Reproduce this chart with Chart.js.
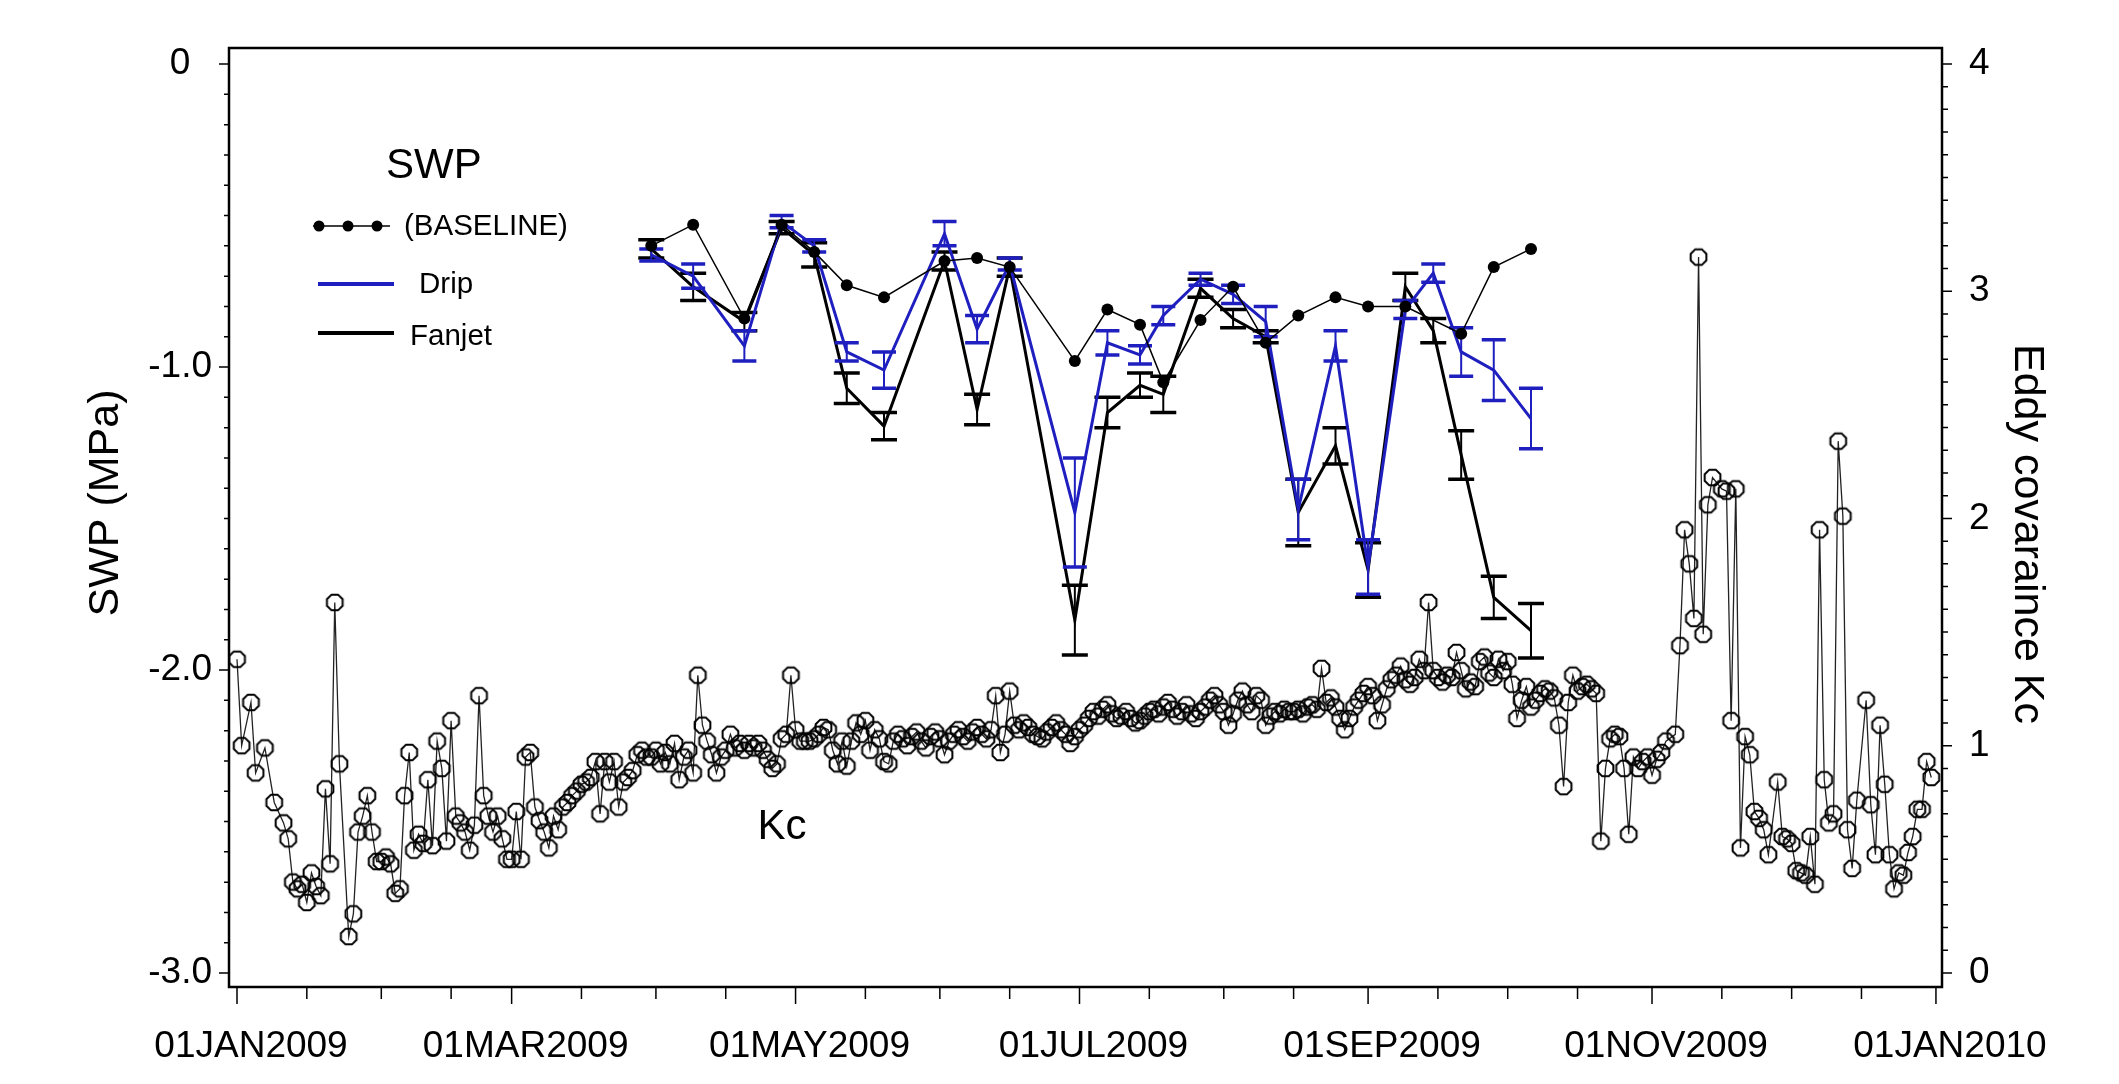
<!DOCTYPE html>
<html><head><meta charset="utf-8">
<script src="https://cdn.jsdelivr.net/npm/chart.js@4.4.0/dist/chart.umd.min.js"></script>
<style>html,body{margin:0;padding:0;background:#fff;}canvas{display:block;}</style>
</head><body>
<canvas id="c" width="2119" height="1084"></canvas>
<script>
// ---------------- DATA ----------------
const xLabels = ['01JAN2009','01MAR2009','01MAY2009','01JUL2009','01SEP2009','01NOV2009','01JAN2010'];
const xLabelDays = [0,59,120,181,243,304,365];
const monthStarts = [0,31,59,90,120,151,181,212,243,273,304,334,365];
const leftLabels = ['0','-1.0','-2.0','-3.0'];
const leftLabelVals = [0,-1,-2,-3];
const rightLabels = ['0','1','2','3','4'];
const rightLabelVals = [0,1,2,3,4];
const leftTitle = 'SWP (MPa)';
const rightTitle = 'Eddy covaraince Kc';

// SWP sampling dates (day of year, 0 = 01JAN2009)
const swpDays = [89,98,109,117,124,131,139,152,159,166,180,187,194,199,207,214,221,228,236,243,251,257,263,270,278];
const baseline = [-0.60,-0.53,-0.84,-0.53,-0.62,-0.73,-0.77,-0.65,-0.64,-0.67,-0.98,-0.81,-0.86,-1.05,-0.845,-0.735,-0.92,-0.83,-0.77,-0.80,-0.80,null,-0.89,-0.67,-0.61];
const drip = [-0.63,-0.70,-0.93,-0.52,-0.60,-0.95,-1.01,-0.56,-0.875,-0.66,-1.48,-0.92,-0.96,-0.83,-0.71,-0.76,-0.85,-1.47,-0.93,-1.66,-0.81,-0.69,-0.95,-1.01,-1.17];
const dripSE = [0.02,0.04,0.05,0.02,0.02,0.03,0.06,0.04,0.045,0.02,0.18,0.04,0.03,0.03,0.02,0.03,0.05,0.10,0.05,0.09,0.03,0.03,0.08,0.10,0.10];
const fanjet = [-0.61,-0.735,-0.85,-0.54,-0.63,-1.07,-1.195,-0.65,-1.14,-0.67,-1.835,-1.15,-1.06,-1.09,-0.74,-0.84,-0.90,-1.48,-1.26,-1.67,-0.735,-0.88,-1.29,-1.76,-1.87];
const fanjetSE = [0.03,0.045,0.03,0.02,0.04,0.05,0.045,0.03,0.05,0.03,0.115,0.05,0.04,0.06,0.03,0.03,0.02,0.11,0.06,0.09,0.045,0.04,0.08,0.07,0.09];

// Eddy covariance Kc (day of year, value)
const kcDays = [0,1,3,4,6,8,10,11,12,13,14,15,16,17,18,19,20,21,22,24,25,26,27,28,29,30,31,32,33,34,35,36,37,38,39,40,41,42,43,44,45,46,47,48,49,50,51,52,53,54,55,56,57,58,59,60,61,62,63,64,65,66,67,68,69,70,71,72,73,74,75,76,77,78,79,80,81,82,83,84,85,86,87,88,89,90,91,92,93,94,95,96,97,98,99,100,101,102,103,104,105,106,107,108,109,110,111,112,113,114,115,116,117,118,119,120,121,122,123,124,125,126,127,128,129,130,131,132,133,134,135,136,137,138,139,140,141,142,143,144,145,146,147,148,149,150,151,152,153,154,155,156,157,158,159,160,161,162,163,164,165,166,167,168,169,170,171,172,173,174,175,176,177,178,179,180,181,182,183,184,185,186,187,188,189,190,191,192,193,194,195,196,197,198,199,200,201,202,203,204,205,206,207,208,209,210,211,212,213,214,215,216,217,218,219,220,221,222,223,224,225,226,227,228,229,230,231,232,233,234,235,236,237,238,239,240,241,242,243,244,245,246,247,248,249,250,251,252,253,254,255,256,257,258,259,260,261,262,263,264,265,266,267,268,269,270,271,272,273,274,275,276,277,278,279,280,281,282,283,284,285,286,287,288,289,290,291,292,293,294,295,296,297,298,299,300,301,302,303,304,305,306,307,309,310,311,312,313,314,315,316,317,319,320,321,322,323,324,325,326,327,328,329,331,332,333,334,335,336,337,338,339,340,341,342,343,344,345,346,347,348,350,351,352,353,354,355,356,357,358,359,360,361,362,363,364];
const kcVals = [1.38,1.00,1.19,0.88,0.99,0.75,0.66,0.59,0.40,0.37,0.39,0.31,0.44,0.38,0.34,0.81,0.48,1.63,0.92,0.16,0.26,0.62,0.69,0.78,0.62,0.49,0.49,0.51,0.48,0.35,0.37,0.78,0.97,0.54,0.61,0.57,0.85,0.56,1.02,0.90,0.58,1.11,0.69,0.66,0.62,0.54,0.65,1.22,0.78,0.69,0.62,0.69,0.59,0.50,0.50,0.71,0.50,0.95,0.97,0.73,0.67,0.62,0.55,0.69,0.63,0.73,0.75,0.78,0.80,0.83,0.84,0.86,0.93,0.70,0.93,0.84,0.93,0.73,0.84,0.86,0.89,0.96,0.98,0.95,0.95,0.98,0.92,0.97,0.92,1.01,0.85,0.95,0.98,0.88,1.31,1.09,1.02,0.96,0.88,0.95,0.98,1.05,0.99,1.01,0.98,1.01,0.99,1.01,0.98,0.94,0.90,0.92,1.03,1.05,1.31,1.07,1.02,1.02,1.02,1.03,1.05,1.08,1.07,0.98,0.92,1.02,0.91,1.02,1.10,1.05,1.11,0.98,1.07,1.03,0.93,0.92,1.02,1.05,1.03,1.00,1.04,1.06,1.02,0.99,1.04,1.06,1.03,0.96,1.02,1.05,1.07,1.04,1.02,1.06,1.08,1.05,1.03,1.07,1.22,0.97,1.05,1.24,1.09,1.07,1.10,1.08,1.05,1.04,1.03,1.06,1.08,1.10,1.07,1.05,1.01,1.04,1.07,1.09,1.12,1.15,1.13,1.16,1.18,1.14,1.12,1.13,1.15,1.12,1.10,1.11,1.13,1.15,1.16,1.14,1.17,1.19,1.16,1.13,1.15,1.18,1.14,1.12,1.15,1.17,1.20,1.22,1.18,1.15,1.09,1.14,1.20,1.24,1.18,1.15,1.22,1.20,1.09,1.13,1.15,1.14,1.16,1.15,1.15,1.16,1.14,1.17,1.18,1.16,1.34,1.19,1.21,1.17,1.12,1.07,1.12,1.17,1.20,1.23,1.26,1.22,1.11,1.18,1.25,1.29,1.31,1.35,1.29,1.27,1.30,1.38,1.33,1.63,1.33,1.30,1.28,1.31,1.30,1.41,1.33,1.25,1.28,1.26,1.37,1.39,1.32,1.30,1.38,1.33,1.37,1.27,1.12,1.20,1.26,1.17,1.20,1.23,1.25,1.24,1.21,1.09,0.82,1.19,1.31,1.24,1.26,1.27,1.25,1.23,0.58,0.90,1.03,1.05,1.04,0.90,0.61,0.95,0.90,0.93,0.95,0.87,0.94,0.97,1.02,1.05,1.44,1.95,1.80,1.56,3.15,1.49,2.06,2.18,2.13,2.12,1.11,2.13,0.55,1.04,0.96,0.71,0.68,0.63,0.52,0.84,0.60,0.59,0.57,0.45,0.44,0.43,0.60,0.39,1.95,0.85,0.66,0.70,2.34,2.01,0.63,0.46,0.76,1.20,0.74,0.52,1.09,0.83,0.52,0.37,0.44,0.43,0.53,0.60,0.72,0.72,0.93,0.86];

// ---------------- STYLE ----------------
const TICKFONT = '"Liberation Sans",Arial,Helvetica,sans-serif';
const SANS = '"Liberation Sans",Arial,Helvetica,sans-serif';
const BLUE = '#1f1fbf';

const xTickVals = [];
monthStarts.forEach(m => { xTickVals.push(m); if (m < 365) xTickVals.push(m + 15); });
const leftTickVals = []; for (let i = 0; i <= 30; i++) leftTickVals.push(-i / 10);
const rightTickVals = []; for (let i = 0; i <= 40; i++) rightTickVals.push(i / 10);

function findLabel(vals, labels, v) {
  const i = vals.findIndex(t => Math.abs(t - v) < 1e-6);
  return i >= 0 ? labels[i] : '';
}

function octagon(r, lw) {
  const s = Math.ceil(2 * r + lw + 4);
  const c = document.createElement('canvas'); c.width = c.height = s;
  const g = c.getContext('2d'); g.strokeStyle = '#000'; g.lineWidth = lw;
  g.beginPath();
  for (let k = 0; k < 8; k++) {
    const a = Math.PI / 8 + k * Math.PI / 4;
    const px = s / 2 + r * Math.cos(a), py = s / 2 + r * Math.sin(a);
    if (k) g.lineTo(px, py); else g.moveTo(px, py);
  }
  g.closePath(); g.stroke();
  return c;
}
const octImg = octagon(8.5, 2);

function drawErr(chart, vals, ses, color, capW) {
  const ctx = chart.ctx, xs = chart.scales.x, ys = chart.scales.y;
  ctx.save(); ctx.strokeStyle = color;
  swpDays.forEach((d, i) => {
    if (vals[i] == null) return;
    const x = xs.getPixelForValue(d);
    const y1 = ys.getPixelForValue(vals[i] + ses[i]);
    const y2 = ys.getPixelForValue(vals[i] - ses[i]);
    ctx.lineWidth = 2;
    ctx.beginPath(); ctx.moveTo(x, y1); ctx.lineTo(x, y2); ctx.stroke();
    ctx.lineWidth = 3.5;
    ctx.beginPath();
    ctx.moveTo(x - capW / 2, y1); ctx.lineTo(x + capW / 2, y1);
    ctx.moveTo(x - capW / 2, y2); ctx.lineTo(x + capW / 2, y2);
    ctx.stroke();
  });
  ctx.restore();
}

const decor = {
  id: 'decor',
  afterDatasetDraw(chart, args) {
    if (args.index === 1) drawErr(chart, drip, dripSE, BLUE, 24);
    if (args.index === 2) drawErr(chart, fanjet, fanjetSE, '#000', 26);
  },
  afterDraw(chart) {
    const ctx = chart.ctx, a = chart.chartArea;
    const xs = chart.scales.x, yl = chart.scales.y, yr = chart.scales.y1;
    ctx.save();
    ctx.strokeStyle = '#000';
    // frame
    ctx.lineWidth = 2.5;
    ctx.strokeRect(a.left, a.top, a.right - a.left, a.bottom - a.top);
    // ticks
    ctx.lineWidth = 1.5;
    ctx.beginPath();
    xTickVals.forEach(v => {
      const px = xs.getPixelForValue(v);
      const major = xLabelDays.includes(v);
      ctx.moveTo(px, a.bottom); ctx.lineTo(px, a.bottom + (major ? 17 : 12));
    });
    leftTickVals.forEach(v => {
      const py = yl.getPixelForValue(v);
      const major = leftLabelVals.some(t => Math.abs(t - v) < 1e-6);
      ctx.moveTo(a.left, py); ctx.lineTo(a.left - (major ? 10 : 5), py);
    });
    rightTickVals.forEach(v => {
      const py = yr.getPixelForValue(v);
      const major = rightLabelVals.some(t => Math.abs(t - v) < 1e-6);
      ctx.moveTo(a.right, py); ctx.lineTo(a.right + (major ? 10 : 6), py);
    });
    ctx.stroke();

    ctx.fillStyle = '#000';
    // axis titles
    ctx.textAlign = 'center'; ctx.textBaseline = 'middle';
    ctx.font = '43px ' + SANS;
    ctx.save(); ctx.translate(106, 503); ctx.rotate(-Math.PI / 2); ctx.fillText(leftTitle, 0, 0); ctx.restore();
    ctx.save(); ctx.translate(2027, 534); ctx.rotate(Math.PI / 2); ctx.fillText(rightTitle, 0, 0); ctx.restore();

    // legend
    ctx.textAlign = 'left';
    ctx.font = '42px ' + SANS;
    ctx.fillText('SWP', 386, 166);
    ctx.font = '29.5px ' + SANS;
    ctx.lineWidth = 1.5;
    ctx.beginPath(); ctx.moveTo(313, 226); ctx.lineTo(390, 226); ctx.stroke();
    [319, 348, 377].forEach(x => { ctx.beginPath(); ctx.arc(x, 226, 5.5, 0, Math.PI * 2); ctx.fill(); });
    ctx.fillText('(BASELINE)', 404, 227);
    ctx.strokeStyle = BLUE; ctx.lineWidth = 4;
    ctx.beginPath(); ctx.moveTo(318, 284); ctx.lineTo(394, 284); ctx.stroke();
    ctx.fillText('Drip', 419, 285);
    ctx.strokeStyle = '#000';
    ctx.beginPath(); ctx.moveTo(318, 333); ctx.lineTo(394, 333); ctx.stroke();
    ctx.fillText('Fanjet', 410, 337);
    // Kc label
    ctx.textAlign = 'center';
    ctx.font = '42px ' + SANS;
    ctx.fillText('Kc', 782, 827);
    ctx.restore();
  }
};

new Chart(document.getElementById('c').getContext('2d'), {
  type: 'line',
  data: {
    datasets: [
      { label: '(BASELINE)', data: swpDays.map((d, i) => ({ x: d, y: baseline[i] })), yAxisID: 'y',
        borderColor: '#000', borderWidth: 1.5, pointRadius: 6, pointBackgroundColor: '#000',
        pointBorderWidth: 0, spanGaps: true, order: 0 },
      { label: 'Drip', data: swpDays.map((d, i) => ({ x: d, y: drip[i] })), yAxisID: 'y',
        borderColor: BLUE, borderWidth: 3, pointRadius: 0, order: 1 },
      { label: 'Fanjet', data: swpDays.map((d, i) => ({ x: d, y: fanjet[i] })), yAxisID: 'y',
        borderColor: '#000', borderWidth: 3, pointRadius: 0, order: 2 },
      { label: 'Kc', data: kcDays.map((d, i) => ({ x: d, y: kcVals[i] })), yAxisID: 'y1',
        borderColor: '#222', borderWidth: 1.3, pointStyle: octImg, pointRadius: 8, order: 3 }
    ]
  },
  options: {
    responsive: false, animation: false, devicePixelRatio: 1,
    layout: { padding: { top: 48, left: 0, right: 0, bottom: 0 } },
    plugins: { legend: { display: false }, tooltip: { enabled: false } },
    scales: {
      x: {
        type: 'linear', position: 'bottom', min: -1.72, max: 366.3,
        grid: { display: false, drawTicks: true, tickLength: 15 },
        border: { display: false },
        ticks: {
          autoSkip: false, maxRotation: 0, minRotation: 0, padding: 23, labelOffset: 14,
          color: '#000', font: { family: TICKFONT, size: 37 },
          callback: v => findLabel(xLabelDays, xLabels, v)
        },
        afterBuildTicks: s => { s.ticks = xTickVals.map(v => ({ value: v })); },
        afterFit: s => { s.height = 97; }
      },
      y: {
        position: 'left', min: -3.046, max: 0.053,
        grid: { display: false, drawTicks: true, tickLength: 10 },
        border: { display: false },
        ticks: { autoSkip: false, padding: 7, crossAlign: 'center', color: '#000', font: { family: TICKFONT, size: 37 },
          callback: v => findLabel(leftLabelVals, leftLabels, v) },
        afterBuildTicks: s => { s.ticks = leftTickVals.map(v => ({ value: v })); },
        afterFit: s => { s.width = 229; }
      },
      y1: {
        position: 'right', min: -0.062, max: 4.07,
        grid: { display: false, drawTicks: true, tickLength: 10 },
        border: { display: false },
        ticks: { autoSkip: false, padding: 17, color: '#000', font: { family: TICKFONT, size: 37 },
          callback: v => findLabel(rightLabelVals, rightLabels, v) },
        afterBuildTicks: s => { s.ticks = rightTickVals.map(v => ({ value: v })); },
        afterFit: s => { s.width = 177; }
      }
    }
  },
  plugins: [decor]
});
</script>
</body></html>
